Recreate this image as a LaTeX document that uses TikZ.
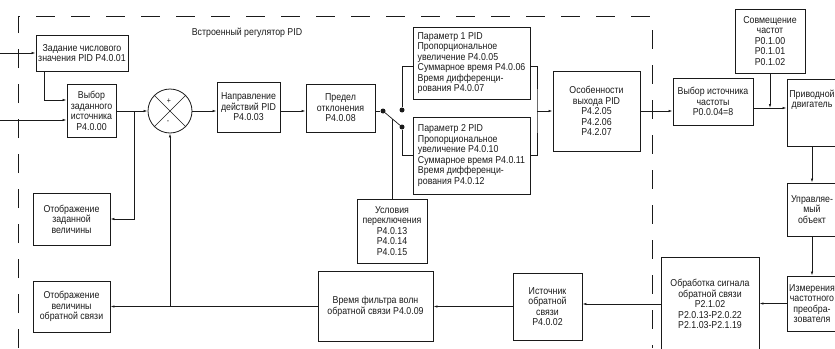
\documentclass[tikz,border=0pt]{standalone}
\usepackage{fontspec}
\setmainfont{Liberation Sans}[FakeStretch=0.88]
\usetikzlibrary{arrows.meta,calc}
\definecolor{ln}{HTML}{1A1A1A}

\begin{document}
\begin{tikzpicture}[
  x=1pt, y=-1pt,
  >={Latex[length=4pt,width=2.4pt]},
  txt/.style={align=center, inner sep=0pt, font=\fontsize{10}{10.5}\selectfont, text=ln},
  blk/.style={txt, draw=ln, line width=0.8pt},
  par/.style={blk, align=left},
  wire/.style={line width=0.7pt, color=ln},
  arr/.style={->, wire},
  frame/.style={line width=0.8pt, color=ln, dash pattern=on 19pt off 16pt},
  dot/.style={circle, fill=ln, inner sep=0pt, minimum size=5pt},
]
\useasboundingbox (0,0) rectangle (835,348);

\draw[frame] (18,348) -- (18,16) -- (652,16) -- (652,348);
\node[txt] (ttl) at (247,33) {Встроенный регулятор PID};

\node[blk, minimum width=92pt, minimum height=36pt] (setv) at (82,53) {Задание числового\\значения PID P4.0.01};
\node[blk, minimum width=49pt, minimum height=53pt] (ssel) at (91.5,111) {Выбор\\заданного\\источника\\P4.0.00};
\node[circle, draw=ln, line width=0.8pt, minimum size=44pt, inner sep=0pt] (sum) at (170,111) {};
\draw[wire] (sum.north west) -- (sum.south east) (sum.north east) -- (sum.south west);
\node[txt, font=\fontsize{8}{8}\selectfont] (plus) at (169,101) {+};
\node[txt, font=\fontsize{8}{8}\selectfont] (minus) at (168,122) {-};
\node[blk, minimum width=77pt, minimum height=52pt] (dset) at (71.5,219) {Отображение\\заданной\\величины};
\node[blk, minimum width=77pt, minimum height=51pt] (dfb) at (71.5,306.5) {Отображение\\величины\\обратной связи};
\node[blk, minimum width=63pt, minimum height=50pt] (dir) at (248.5,107) {Направление\\действий PID\\P4.0.03};
\node[blk, minimum width=69pt, minimum height=48pt] (lim) at (340.5,108) {Предел\\отклонения\\P4.0.08};
\node[par, minimum width=117pt, minimum height=72pt] (pa) at (471.5,63) {Параметр 1 PID\\Пропорциональное\\увеличение P4.0.05\\Суммарное время P4.0.06\\Время дифференци-\\рования P4.0.07};
\node[par, minimum width=117pt, minimum height=77pt] (pb) at (471.5,155.5) {Параметр 2 PID\\Пропорциональное\\увеличение P4.0.10\\Суммарное время P4.0.11\\Время дифференци-\\рования P4.0.12};
\node[blk, minimum width=70pt, minimum height=64pt] (cond) at (392,231) {Условия\\переключения\\P4.0.13\\P4.0.14\\P4.0.15};
\node[blk, minimum width=87pt, minimum height=80pt] (outp) at (596.5,111) {Особенности\\выхода PID\\P4.2.05\\P4.2.06\\P4.2.07};
\node[blk, minimum width=80pt, minimum height=47pt] (fsel) at (713,101.5) {Выбор источника\\частоты\\P0.0.04=8};
\node[blk, minimum width=70pt, minimum height=64pt] (comb) at (770,41) {Совмещение\\частот\\P0.1.00\\P0.1.01\\P0.1.02};
\node[blk, minimum width=50pt, minimum height=67pt] (drv) at (812,112.5) {};
\node[txt, anchor=north] (drvt) at ([yshift=-11pt]drv.north) {Приводной\\двигатель};
\node[blk, minimum width=50pt, minimum height=53pt] (obj) at (812,209.5) {Управляе-\\мый\\объект};
\node[blk, minimum width=50pt, minimum height=55pt] (meas) at (812,303.5) {Измерения\\частотного\\преобра-\\зователя};
\node[blk, minimum width=98pt, minimum height=94pt] (proc) at (710,304) {Обработка сигнала\\обратной связи\\P2.1.02\\P2.0.13-P2.0.22\\P2.1.03-P2.1.19};
\node[blk, minimum width=69pt, minimum height=67pt] (fbs) at (547.5,306.5) {Источник\\обратной\\связи\\P4.0.02};
\node[blk, minimum width=115pt, minimum height=70pt] (filt) at (375.5,306.5) {Время фильтра волн\\обратной связи P4.0.09};

\node[dot] (sa) at (383,111) {};
\node[dot] (sb) at (402,110) {};
\node[dot] (sc) at (402,127) {};

\coordinate (in1) at (0,53);
\coordinate (in2) at (0,120);
\coordinate (j1) at (134,111);
\coordinate (j2) at (170,306.5);
\coordinate (br) at (537,111);
\coordinate (mix) at (770,108);
\coordinate (sw) at ($(sa)!0.47!(sc)$);

\draw[arr] (in1) -- (setv.west);
\draw[arr] ([xshift=-38pt]setv.south) |- ([yshift=11pt]ssel.west);
\draw[arr] (in2) -- (in2 -| ssel.west);
\draw[arr] (ssel.east) -- (sum.west);
\draw[arr] (j1) |- (dset.east);
\draw[arr] (sum.east) -- (sum.east -| dir.west);
\draw[arr] (dir.east |- sum) -- (lim.west |- sum);
\draw[wire] (lim.east |- sa) -- (sa);
\draw[wire] (sa) -- (sc);
\draw[wire] (sb) |- ([yshift=-3pt]pa.west);
\draw[wire] (sc) |- (pb.west);
\draw[wire] (cond.north) -- (cond.north |- sw);
\draw[wire] ([yshift=-3pt]pa.east) -| (br) |- (pb.east);
\draw[arr] (br) -- (br -| outp.west);
\draw[arr] (outp.east) -- (outp.east -| fsel.west);
\draw[arr] (mix -| fsel.east) -- (mix -| drv.west);
\draw[arr] (comb.south) -- (mix);
\draw[arr] (drv.south) -- (obj.north);
\draw[arr] (obj.south) -- (meas.north);
\draw[arr] (meas.west) -- (meas.west -| proc.east);
\draw[arr] (proc.west) -- (proc.west -| fbs.east);
\draw[arr] (fbs.west) -- (fbs.west -| filt.east);
\draw[arr] (filt.west) -- (filt.west -| dfb.east);
\draw[arr] (j2) -- (sum.south);

\end{tikzpicture}
\end{document}
